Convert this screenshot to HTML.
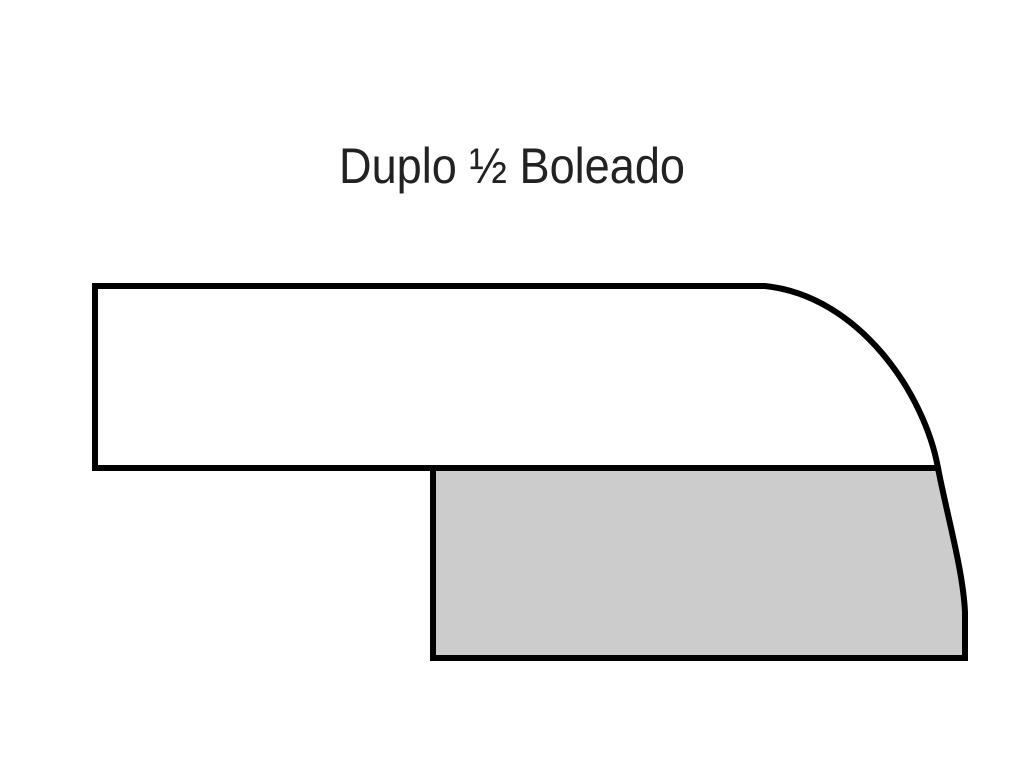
<!DOCTYPE html>
<html><head><meta charset="utf-8"><style>html,body{margin:0;padding:0;background:#fff}svg{display:block}</style></head>
<body>
<svg width="1023" height="768" viewBox="0 0 1023 768" xmlns="http://www.w3.org/2000/svg">
<rect width="1023" height="768" fill="#fff"/>
<text x="339" y="183" font-family="Liberation Sans Narrow, Liberation Sans, sans-serif" font-size="50" fill="#222" textLength="346" lengthAdjust="spacingAndGlyphs">Duplo ½ Boleado</text>
<path d="M433,468 L938,468 C947,515 963,570 965,612 L965,658 L433,658 Z" fill="#cccccc" stroke="#000" stroke-width="6" stroke-linejoin="miter"/>
<path d="M95,286 L765,286 C860,296 925,395 938,468 L95,468 Z" fill="#fff" stroke="#000" stroke-width="6"/>
</svg>
</body></html>
